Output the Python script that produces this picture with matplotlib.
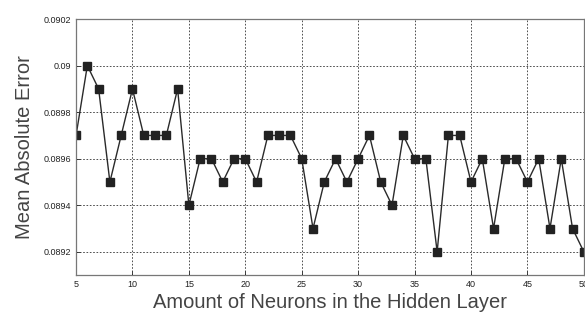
import matplotlib
matplotlib.use("Agg")
import matplotlib.pyplot as plt
from matplotlib.ticker import FuncFormatter

neurons = list(range(5, 51))
mae = [0.0897, 0.0900, 0.0899, 0.0895, 0.0897, 0.0899, 0.0897, 0.0897, 0.0897, 0.0899,
       0.0894, 0.0896, 0.0896, 0.0895, 0.0896, 0.0896, 0.0895, 0.0897, 0.0897, 0.0897,
       0.0896, 0.0893, 0.0895, 0.0896, 0.0895, 0.0896, 0.0897, 0.0895, 0.0894, 0.0897,
       0.0896, 0.0896, 0.0892, 0.0897, 0.0897, 0.0895, 0.0896, 0.0893, 0.0896, 0.0896,
       0.0895, 0.0896, 0.0893, 0.0896, 0.0893, 0.0892]
xticks = [5, 10, 15, 20, 25, 30, 35, 40, 45, 50]
yticks = [0.0892, 0.0894, 0.0896, 0.0898, 0.0900, 0.0902]

plt.rcParams['font.family'] = ['Liberation Sans', 'DejaVu Sans']

fig = plt.figure(figsize=(5.85, 3.18), dpi=100)
ax = fig.add_axes([0.130, 0.135, 0.868, 0.805])
ax.plot(neurons, mae, color='#2a2a2a', lw=1.0, marker='s', ms=5.5,
        mfc='#222222', mec='#222222')
ax.set_xlim(5, 50)
ax.set_ylim(0.0891, 0.0902)
ax.set_xticks(xticks)
ax.set_yticks(yticks)
ax.yaxis.set_major_formatter(FuncFormatter(lambda v, p: ('%.4f' % v).rstrip('0')))
ax.grid(True, color='#333333', linestyle=(0, (2, 2)), lw=0.6)
ax.tick_params(direction='in', labelsize=6.5, colors='#222222', length=3, width=0.6)
for s in ax.spines.values():
    s.set_color('#777777')
    s.set_linewidth(0.9)
ax.set_xlabel('Amount of Neurons in the Hidden Layer', fontsize=14.5, color='#444444', labelpad=3)
ax.set_ylabel('Mean Absolute Error', fontsize=14.5, color='#444444', labelpad=7)
fig.savefig('out.png', dpi=100)
